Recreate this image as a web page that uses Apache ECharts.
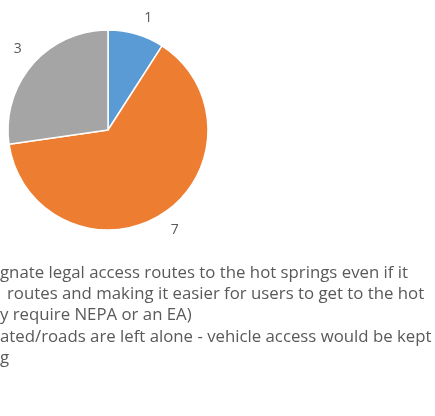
<!DOCTYPE html>
<html>
<head>
<meta charset="utf-8">
<script src="https://cdn.jsdelivr.net/npm/echarts@6/dist/echarts.min.js"></script>
<style>
  html, body { margin: 0; padding: 0; background: #fff; }
  #chart { width: 435px; height: 416px; }
</style>
</head>
<body>
<div id="chart"></div>
<script>
// slice values, clockwise from 12 o'clock
var sliceNames = ['Option A', 'Option B', 'Option C'];
var sliceValues = [1, 7, 3];
var sliceColors = ['#5B9BD5', '#ED7D31', '#A5A5A5'];

// legend text (cropped at the left edge in the reference)
var legendLines = [
  'gnate legal access routes to the hot springs even if it',
  'routes and making it easier for users to get to the hot',
  'y require NEPA or an EA)',
  'ated/roads are left alone - vehicle access would be kept',
  'g'
];
var lineIndent = [0, 7, 0, 0, 0];

// small nudges so the value labels sit where Excel put them
var labelNudge = [[-2, 1], [-6, 1], [8, -4]];

var chart = echarts.init(document.getElementById('chart'));

var textEls = legendLines.map(function (line, i) {
  return {
    type: 'text',
    x: lineIndent[i],
    y: 273 + i * 21.3,
    style: {
      text: line,
      fill: '#595959',
      font: '16.8px "Open Sans", sans-serif',
      verticalAlign: 'middle'
    }
  };
});

chart.setOption({
  animation: false,
  series: [{
    type: 'pie',
    center: [108, 130],
    radius: 100,
    startAngle: 90,
    clockwise: true,
    avoidLabelOverlap: false,
    data: sliceNames.map(function (n, i) {
      return { name: n, value: sliceValues[i], itemStyle: { color: sliceColors[i] } };
    }),
    itemStyle: { borderColor: '#fff', borderWidth: 1.5 },
    label: {
      show: true,
      position: 'outside',
      alignTo: 'none',
      formatter: '{c}',
      color: '#595959',
      fontSize: 14,
      fontFamily: 'Open Sans'
    },
    labelLine: { show: false, length: 18, length2: 0 },
    labelLayout: function (p) {
      var n = labelNudge[p.dataIndex];
      return { dx: n[0], dy: n[1] };
    },
    emphasis: { disabled: true }
  }],
  graphic: textEls
});
</script>
</body>
</html>
